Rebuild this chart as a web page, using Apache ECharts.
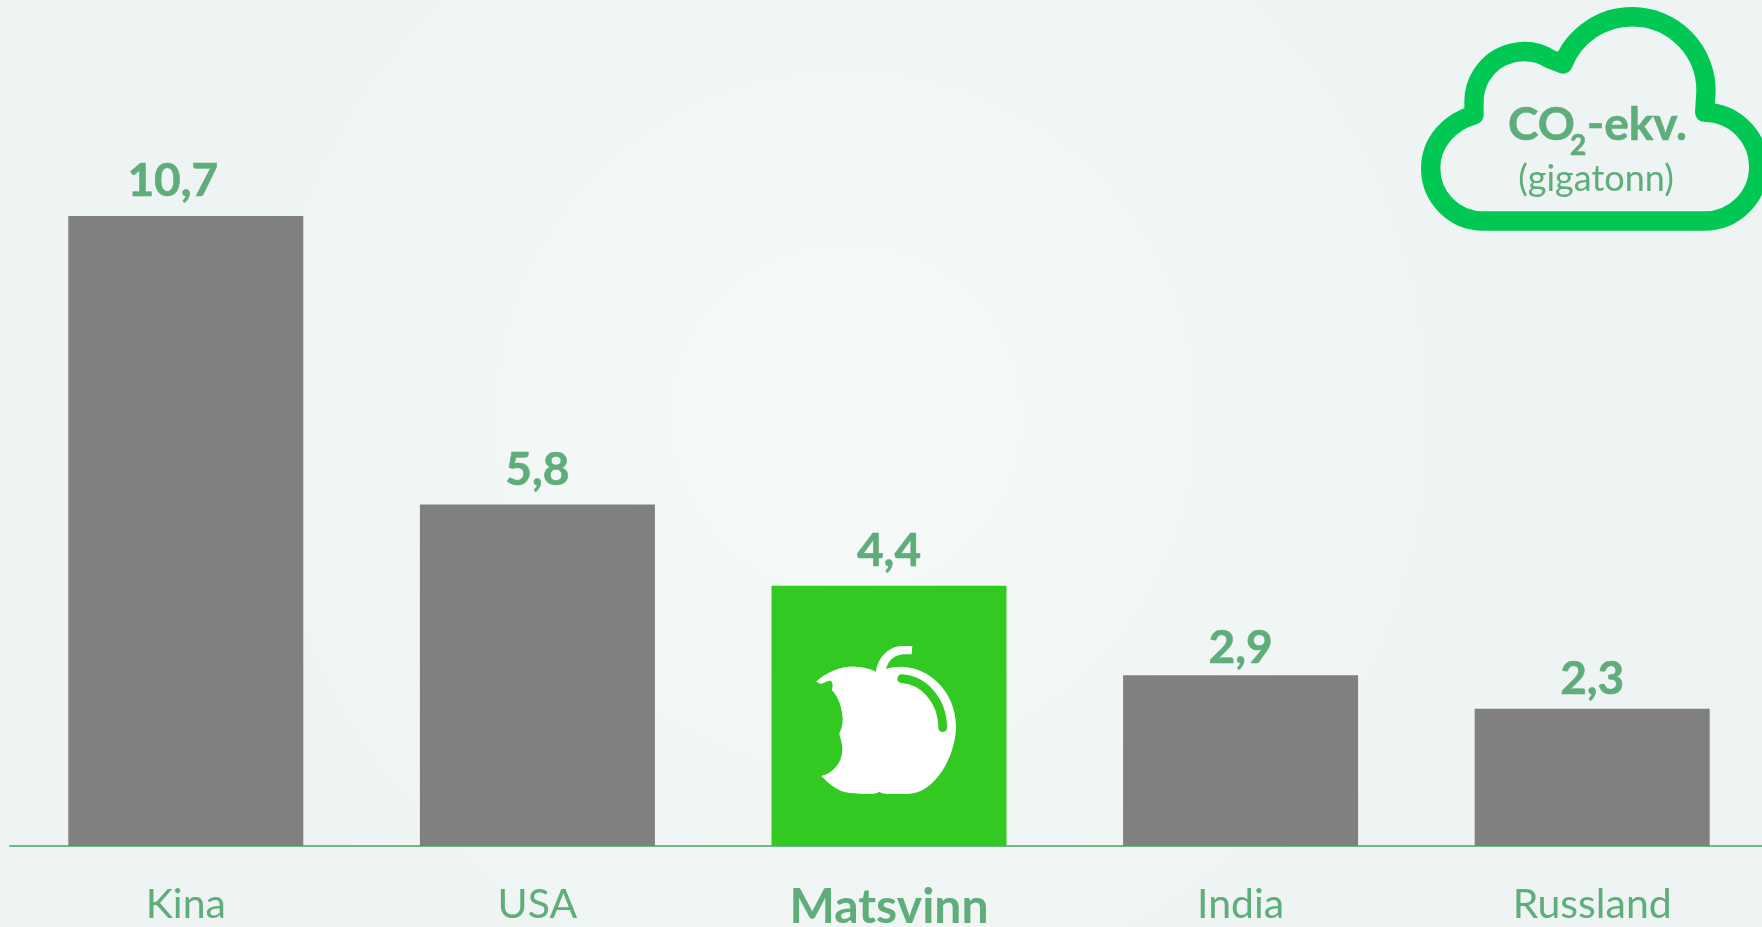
<!DOCTYPE html>
<html lang="no">
<head>
    <meta charset="utf-8">
    <title>CO2-ekv.</title>
    <script src="https://cdn.jsdelivr.net/npm/echarts@6/dist/echarts.min.js"></script>
    <style>
        html, body { margin: 0; padding: 0; overflow: hidden; }
        #chartMain { width: 1762px; height: 927px; }
    </style>
</head>
<body>
    <div id="chartMain"></div>
    <script type="text/javascript">
        var categories = ['Kina', 'USA', 'Matsvinn', 'India', 'Russland'];
        var values = [10.7, 5.8, 4.42, 2.9, 2.33];
        var highlight = 'Matsvinn';

        var textGreen = '#5fad7b';
        var cloudGreen = '#00c853';
        var barGreen = '#33c923';
        var fontName = 'Lato';

        // label nudges per bar, the original labels don't sit evenly above the bars
        var labelNudge = [[-13, -2.5], [0, -2.5], [0, -3], [0, 4.5], [0, 2]];

        // icon outlines, in 3x units so they line up with the zoomed crops
        var cloudPath = 'M250,663 L912,663 A163,163 0 0 0 914,337 L918,275 A222,222 0 0 0 489,192 L452,178 ' +
            'A150,150 0 0 0 222,310 L222,345 C150,365 92,425 92,505 A158,158 0 0 0 250,663 Z';
        var applePath = 'M168,485 C200,455 250,435 290,440 C315,442 335,448 348,455 C352,420 380,380 425,378 L457,378 L455,403 ' +
            'L430,403 C405,405 385,420 378,447 C475,415 588,495 588,620 C588,700 530,822 440,822 L400,822 ' +
            'C385,822 365,822 358,815 C350,822 335,822 310,822 L265,818 C235,815 210,795 184,768 ' +
            'C215,760 245,735 247,690 C248,670 240,655 238,640 C245,625 250,610 247,585 C243,550 230,525 215,510 ' +
            'C220,500 218,485 212,482 C200,482 190,490 183,492 Z';
        var appleShine = 'M425,476 C490,480 548,540 548,623';

        function renderIcons() {
            return {
                type: 'group',
                children: [
                    {type: 'path', x: 1400, y: 0, scaleX: 1 / 3, scaleY: 1 / 3, shape: {pathData: cloudPath},
                        style: {fill: 'none', stroke: cloudGreen, lineWidth: 58, lineJoin: 'round'}},
                    {type: 'path', x: 760, y: 520, scaleX: 1 / 3, scaleY: 1 / 3, shape: {pathData: applePath},
                        style: {fill: '#ffffff'}},
                    {type: 'path', x: 760, y: 520, scaleX: 1 / 3, scaleY: 1 / 3, shape: {pathData: appleShine},
                        style: {fill: 'none', stroke: barGreen, lineWidth: 26, lineCap: 'round'}}
                ]
            };
        }

        function cloudText(text, x, y, font, align, border) {
            return {
                type: 'text', x: x, y: y, z: 12,
                style: {text: text, fill: textGreen, stroke: textGreen, lineWidth: border, font: font, align: align, verticalAlign: 'bottom'}
            };
        }

        var chart = echarts.init(document.getElementById('chartMain'));
        chart.setOption({
            animation: false,
            backgroundColor: new echarts.graphic.RadialGradient(0.48, 0.45, 0.75, [
                {offset: 0, color: '#f6faf9'},
                {offset: 0.5, color: '#f2f7f6'},
                {offset: 1, color: '#eef3f3'}
            ]),
            grid: {left: 10, top: 216, width: 1758, height: 630, outerBoundsMode: 'none'},
            xAxis: {
                type: 'category',
                data: categories,
                axisTick: {show: false},
                axisLine: {lineStyle: {color: '#6db98a', width: 2}},
                axisLabel: {
                    margin: 38,
                    interval: 0,
                    color: textGreen,
                    fontFamily: fontName,
                    fontSize: 41,
                    formatter: function (name) {
                        return name === highlight ? '{b|' + name + '}' : name;
                    },
                    rich: {
                        b: {color: textGreen, fontFamily: fontName, fontSize: 48, fontWeight: 'bold'}
                    }
                }
            },
            yAxis: {type: 'value', min: 0, max: 10.7, show: false},
            series: [{
                type: 'bar',
                barWidth: 235,
                data: values.map(function (v, i) {
                    return {
                        value: v,
                        itemStyle: {color: categories[i] === highlight ? barGreen : '#808080'},
                        label: {offset: labelNudge[i]}
                    };
                }),
                label: {
                    show: true,
                    position: 'top',
                    distance: 9,
                    color: textGreen,
                    fontFamily: fontName,
                    fontWeight: 'bold',
                    fontSize: 46,
                    textBorderColor: textGreen,
                    textBorderWidth: 0.6,
                    formatter: function (p) {
                        return p.value.toFixed(1).replace('.', ',');
                    }
                }
            }, {
                type: 'custom',
                coordinateSystem: 'none',
                z: 5,
                silent: true,
                data: [0],
                renderItem: renderIcons
            }],
            graphic: [
                cloudText('CO', 1508, 148, 'bold 46px Lato', 'left', 0.6),
                cloudText('2', 1570, 160, 'bold 28px Lato', 'left', 0.6),
                cloudText('-ekv.', 1587, 148, 'bold 46px Lato', 'left', 0.6),
                cloudText('(gigatonn)', 1596, 197, '36px Lato', 'center', 0)
            ]
        });
    </script>
</body>
</html>
